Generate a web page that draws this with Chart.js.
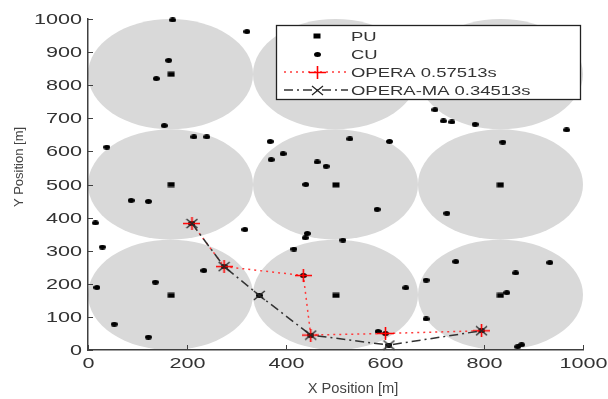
<!DOCTYPE html>
<html>
<head>
<meta charset="utf-8">
<title>OPERA / OPERA-MA routes</title>
<script src="https://cdn.jsdelivr.net/npm/chart.js@4.4.1/dist/chart.umd.min.js"></script>
<style>
  html, body { margin: 0; padding: 0; background: #fff; }
  #wrap { width: 608px; height: 399px; }
</style>
</head>
<body>
<div id="wrap"><canvas id="chart" width="608" height="399"></canvas></div>
<script>
// --- data (metres) ---
const cellCenters = [166.7, 500, 833.3];
const cellRadius = 166.7;

const puPoints = [
  [168, 833], [500, 833], [833, 833],
  [168, 500], [501, 499], [833, 499],
  [168, 165], [501, 165], [833, 165]
];

const cuPoints = [
  [171, 997], [321, 962], [163, 875], [138, 820], [154, 678], [214, 644], [240, 644], [38, 613],
  [368, 630], [529, 638], [609, 630], [394, 593], [370, 575], [463, 568], [481, 555], [440, 500],
  [701, 726], [718, 692], [735, 689], [782, 682], [967, 665], [838, 628],
  [87, 452], [122, 449], [15, 384], [317, 364], [29, 311], [234, 240], [136, 205], [18, 189],
  [53, 78], [122, 39],
  [584, 425], [443, 352], [439, 339], [515, 332], [416, 305], [642, 188], [586, 56],
  [725, 413], [743, 267], [933, 264], [864, 233], [683, 211], [846, 173], [683, 94],
  [868, 10], [876, 16],
  [210, 382], [275, 252], [346, 165], [435, 225], [450, 45], [601, 50], [608, 15], [795, 58]
];

const operaRoute = [[210, 382], [275, 252], [435, 225], [450, 45], [601, 50], [795, 58]];
const operaMaRoute = [[210, 382], [275, 252], [346, 165], [450, 45], [608, 15], [795, 58]];

const xTicks = [0, 200, 400, 600, 800, 1000];
const yTicks = [0, 100, 200, 300, 400, 500, 600, 700, 800, 900, 1000];
const legendLabels = ['PU', 'CU', 'OPERA 0.57513s', 'OPERA-MA 0.34513s'];

const toXY = arr => arr.map(p => ({ x: p[0], y: p[1] }));

// small canvases used as marker shapes (slightly wide, like the original)
function makeMarker(w, h, draw) {
  const c = document.createElement('canvas');
  c.width = w;
  c.height = h;
  draw(c.getContext('2d'), w, h);
  return c;
}
const dotImg = makeMarker(7, 5, (g, w, h) => {
  g.fillStyle = '#000';
  g.beginPath();
  g.ellipse(w / 2, h / 2, w / 2, h / 2, 0, 0, Math.PI * 2);
  g.fill();
});
const squareImg = makeMarker(8, 6, (g) => {
  g.fillStyle = '#000';
  g.fillRect(0.5, 0.5, 7, 5);
});
const plusImg = makeMarker(17, 13, (g, w, h) => {
  g.strokeStyle = '#ff0000';
  g.lineWidth = 1.6;
  g.beginPath();
  g.moveTo(0, h / 2); g.lineTo(w, h / 2);
  g.moveTo(w / 2, 0); g.lineTo(w / 2, h);
  g.stroke();
});
const crossImg = makeMarker(13, 11, (g, w, h) => {
  g.strokeStyle = '#222';
  g.lineWidth = 1.2;
  g.beginPath();
  g.moveTo(1, 1); g.lineTo(w - 1, h - 1);
  g.moveTo(w - 1, 1); g.lineTo(1, h - 1);
  g.stroke();
});

const TEXT = '#333';
const FONT = '"Liberation Sans", Arial, sans-serif';

function wideText(ctx, text, x, y, sx, align) {
  ctx.save();
  ctx.translate(x, y);
  ctx.scale(sx, 1);
  ctx.textAlign = align;
  ctx.fillText(text, 0, 0);
  ctx.restore();
}

// gray coverage circles behind everything
const cellsPlugin = {
  id: 'cells',
  beforeDraw(chart) {
    const { ctx, scales: { x, y } } = chart;
    ctx.save();
    ctx.fillStyle = '#fff';
    ctx.fillRect(0, 0, chart.width, chart.height);
    ctx.fillStyle = '#d9d9d9';
    cellCenters.forEach(cx => {
      cellCenters.forEach(cy => {
        const px = x.getPixelForValue(cx);
        const py = y.getPixelForValue(cy);
        const rx = x.getPixelForValue(cx + cellRadius) - px;
        const ry = py - y.getPixelForValue(cy + cellRadius);
        ctx.beginPath();
        ctx.ellipse(px, py, rx, ry, 0, 0, Math.PI * 2);
        ctx.fill();
      });
    });
    ctx.restore();
  }
};

// inward ticks, tick labels and axis titles
const axesPlugin = {
  id: 'axesText',
  afterDraw(chart) {
    const { ctx, chartArea: a, scales: { x, y } } = chart;
    ctx.save();
    ctx.strokeStyle = '#404040';
    ctx.lineWidth = 1;
    ctx.fillStyle = TEXT;
    ctx.font = '15px ' + FONT;
    ctx.textBaseline = 'alphabetic';
    xTicks.forEach(v => {
      const px = Math.round(x.getPixelForValue(v)) + 0.5;
      ctx.beginPath();
      ctx.moveTo(px, a.bottom);
      ctx.lineTo(px, a.bottom - 5);
      ctx.stroke();
      wideText(ctx, String(v), px, 368, 1.44, 'center');
    });
    ctx.textBaseline = 'middle';
    yTicks.forEach(v => {
      const py = Math.round(y.getPixelForValue(v)) + 0.5;
      ctx.beginPath();
      ctx.moveTo(a.left, py);
      ctx.lineTo(a.left + 5, py);
      ctx.stroke();
      wideText(ctx, String(v), 82, py, 1.44, 'right');
    });

    ctx.fillStyle = '#444';
    ctx.font = '14px ' + FONT;
    ctx.textBaseline = 'alphabetic';
    wideText(ctx, 'X Position [m]', 353, 393, 1.05, 'center');
    ctx.save();
    ctx.translate(23, 167);
    ctx.rotate(-Math.PI / 2);
    ctx.font = '13px ' + FONT;
    ctx.textAlign = 'center';
    ctx.fillText('Y Position [m]', 0, 0);
    ctx.restore();
    ctx.restore();
  }
};

// matlab-style boxed legend in the upper right
const legendPlugin = {
  id: 'boxLegend',
  afterDraw(chart) {
    const ctx = chart.ctx;
    const box = { l: 276.5, t: 25.5, r: 580.5, b: 99.5 };
    const rows = [36, 54, 72, 90];
    const lineX0 = 284, lineX1 = 348, markX = 317, textX = 351;
    ctx.save();
    ctx.fillStyle = '#fff';
    ctx.fillRect(box.l, box.t, box.r - box.l, box.b - box.t);
    ctx.strokeStyle = '#222';
    ctx.lineWidth = 1.3;
    ctx.strokeRect(box.l, box.t, box.r - box.l, box.b - box.t);

    const drawMark = (img, cx, cy) => ctx.drawImage(img, Math.round(cx - img.width / 2), Math.round(cy - img.height / 2));

    drawMark(squareImg, markX, rows[0]);
    drawMark(dotImg, markX, rows[1]);

    ctx.lineWidth = 1.5;
    ctx.strokeStyle = '#ff3b3b';
    ctx.setLineDash([2, 4]);
    ctx.beginPath();
    ctx.moveTo(lineX0, rows[2]);
    ctx.lineTo(lineX1, rows[2]);
    ctx.stroke();
    drawMark(plusImg, markX, rows[2]);

    ctx.strokeStyle = '#333';
    ctx.setLineDash([9, 4, 2, 4]);
    ctx.beginPath();
    ctx.moveTo(lineX0, rows[3]);
    ctx.lineTo(lineX1, rows[3]);
    ctx.stroke();
    ctx.setLineDash([]);
    drawMark(crossImg, markX, rows[3]);

    ctx.fillStyle = TEXT;
    ctx.font = '13px ' + FONT;
    ctx.textBaseline = 'alphabetic';
    legendLabels.forEach((t, i) => wideText(ctx, t, textX, rows[i] + 5, 1.42, 'left'));
    ctx.restore();
  }
};

new Chart(document.getElementById('chart'), {
  type: 'scatter',
  data: {
    datasets: [
      {
        label: legendLabels[3],
        data: toXY(operaMaRoute),
        showLine: true,
        borderColor: '#333',
        borderWidth: 1.5,
        borderDash: [9, 4, 2, 4],
        pointStyle: crossImg,
        pointRadius: 6,
        clip: false,
        order: 1
      },
      {
        label: legendLabels[2],
        data: toXY(operaRoute),
        showLine: true,
        borderColor: '#ff3b3b',
        borderWidth: 1.5,
        borderDash: [2, 4],
        pointStyle: plusImg,
        pointRadius: 7,
        clip: false,
        order: 2
      },
      {
        label: legendLabels[1],
        data: toXY(cuPoints),
        pointStyle: dotImg,
        pointRadius: 3,
        clip: false,
        order: 3
      },
      {
        label: legendLabels[0],
        data: toXY(puPoints),
        pointStyle: squareImg,
        pointRadius: 4,
        clip: false,
        order: 4
      }
    ]
  },
  options: {
    responsive: false,
    animation: false,
    devicePixelRatio: 1,
    layout: { padding: { left: 88, right: 25, top: 19, bottom: 49 } },
    plugins: {
      legend: { display: false },
      tooltip: { enabled: false }
    },
    scales: {
      x: {
        type: 'linear',
        min: 0,
        max: 1000,
        grid: { display: false, drawTicks: false },
        ticks: { display: false },
        border: { display: true, color: '#404040', width: 1.5, z: 1 }
      },
      y: {
        type: 'linear',
        min: 0,
        max: 1000,
        grid: { display: false, drawTicks: false },
        ticks: { display: false },
        border: { display: true, color: '#404040', width: 1.5, z: 1 }
      }
    }
  },
  plugins: [cellsPlugin, axesPlugin, legendPlugin]
});
</script>
</body>
</html>
